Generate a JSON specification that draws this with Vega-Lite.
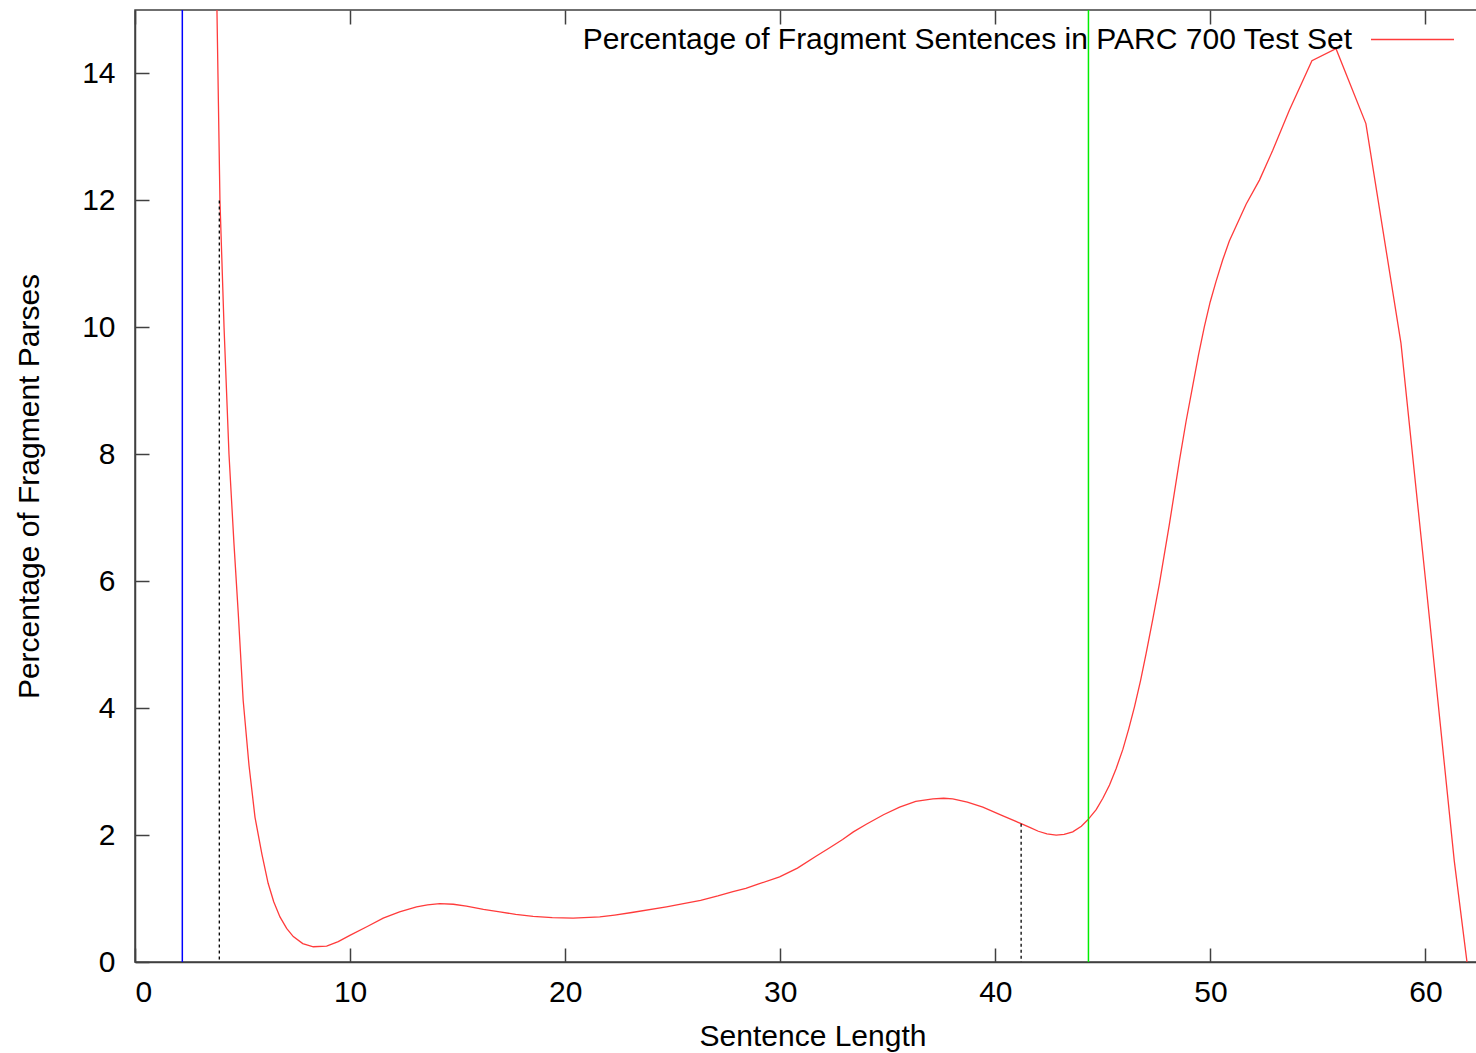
{
  "$schema": "https://vega.github.io/schema/vega-lite/v6.json",
  "width": 1355,
  "height": 952,
  "autosize": "none",
  "padding": {"left": 135, "top": 10, "right": 0, "bottom": 91},
  "background": "white",
  "config": {
    "font": "Liberation Sans",
    "view": {"stroke": "#404040", "strokeWidth": 1.5},
    "axis": {
      "labelFont": "Liberation Sans",
      "labelFontSize": 30,
      "labelColor": "black",
      "titleFont": "Liberation Sans",
      "titleFontSize": 30,
      "titleFontWeight": "normal",
      "titleColor": "black",
      "domainColor": "#404040",
      "domainWidth": 1.5,
      "tickColor": "#404040",
      "tickWidth": 1.5,
      "grid": false
    }
  },
  "datasets": {
    "curve": [
      {"len": 3.5, "pct": 18, "series": "Percentage of Fragment Sentences in PARC 700 Test Set"},
      {"len": 3.81, "pct": 15, "series": "Percentage of Fragment Sentences in PARC 700 Test Set"},
      {"len": 3.95, "pct": 12, "series": "Percentage of Fragment Sentences in PARC 700 Test Set"},
      {"len": 4.14, "pct": 10, "series": "Percentage of Fragment Sentences in PARC 700 Test Set"},
      {"len": 4.37, "pct": 8, "series": "Percentage of Fragment Sentences in PARC 700 Test Set"},
      {"len": 4.6, "pct": 6.6, "series": "Percentage of Fragment Sentences in PARC 700 Test Set"},
      {"len": 4.8, "pct": 5.5, "series": "Percentage of Fragment Sentences in PARC 700 Test Set"},
      {"len": 5.03, "pct": 4.12, "series": "Percentage of Fragment Sentences in PARC 700 Test Set"},
      {"len": 5.3, "pct": 3.1, "series": "Percentage of Fragment Sentences in PARC 700 Test Set"},
      {"len": 5.58, "pct": 2.28, "series": "Percentage of Fragment Sentences in PARC 700 Test Set"},
      {"len": 5.9, "pct": 1.7, "series": "Percentage of Fragment Sentences in PARC 700 Test Set"},
      {"len": 6.19, "pct": 1.24, "series": "Percentage of Fragment Sentences in PARC 700 Test Set"},
      {"len": 6.45, "pct": 0.95, "series": "Percentage of Fragment Sentences in PARC 700 Test Set"},
      {"len": 6.74, "pct": 0.71, "series": "Percentage of Fragment Sentences in PARC 700 Test Set"},
      {"len": 7.05, "pct": 0.53, "series": "Percentage of Fragment Sentences in PARC 700 Test Set"},
      {"len": 7.36, "pct": 0.4, "series": "Percentage of Fragment Sentences in PARC 700 Test Set"},
      {"len": 7.8, "pct": 0.29, "series": "Percentage of Fragment Sentences in PARC 700 Test Set"},
      {"len": 8.29, "pct": 0.24, "series": "Percentage of Fragment Sentences in PARC 700 Test Set"},
      {"len": 8.91, "pct": 0.25, "series": "Percentage of Fragment Sentences in PARC 700 Test Set"},
      {"len": 9.45, "pct": 0.32, "series": "Percentage of Fragment Sentences in PARC 700 Test Set"},
      {"len": 9.99, "pct": 0.42, "series": "Percentage of Fragment Sentences in PARC 700 Test Set"},
      {"len": 10.8, "pct": 0.56, "series": "Percentage of Fragment Sentences in PARC 700 Test Set"},
      {"len": 11.54, "pct": 0.69, "series": "Percentage of Fragment Sentences in PARC 700 Test Set"},
      {"len": 12.3, "pct": 0.79, "series": "Percentage of Fragment Sentences in PARC 700 Test Set"},
      {"len": 13.09, "pct": 0.87, "series": "Percentage of Fragment Sentences in PARC 700 Test Set"},
      {"len": 13.6, "pct": 0.9, "series": "Percentage of Fragment Sentences in PARC 700 Test Set"},
      {"len": 14.17, "pct": 0.92, "series": "Percentage of Fragment Sentences in PARC 700 Test Set"},
      {"len": 14.8, "pct": 0.91, "series": "Percentage of Fragment Sentences in PARC 700 Test Set"},
      {"len": 15.41, "pct": 0.88, "series": "Percentage of Fragment Sentences in PARC 700 Test Set"},
      {"len": 16.2, "pct": 0.83, "series": "Percentage of Fragment Sentences in PARC 700 Test Set"},
      {"len": 16.96, "pct": 0.79, "series": "Percentage of Fragment Sentences in PARC 700 Test Set"},
      {"len": 17.7, "pct": 0.75, "series": "Percentage of Fragment Sentences in PARC 700 Test Set"},
      {"len": 18.51, "pct": 0.72, "series": "Percentage of Fragment Sentences in PARC 700 Test Set"},
      {"len": 19.4, "pct": 0.7, "series": "Percentage of Fragment Sentences in PARC 700 Test Set"},
      {"len": 20.37, "pct": 0.69, "series": "Percentage of Fragment Sentences in PARC 700 Test Set"},
      {"len": 21.61, "pct": 0.71, "series": "Percentage of Fragment Sentences in PARC 700 Test Set"},
      {"len": 22.3, "pct": 0.74, "series": "Percentage of Fragment Sentences in PARC 700 Test Set"},
      {"len": 23.1, "pct": 0.78, "series": "Percentage of Fragment Sentences in PARC 700 Test Set"},
      {"len": 24.71, "pct": 0.87, "series": "Percentage of Fragment Sentences in PARC 700 Test Set"},
      {"len": 25.5, "pct": 0.92, "series": "Percentage of Fragment Sentences in PARC 700 Test Set"},
      {"len": 26.3, "pct": 0.97, "series": "Percentage of Fragment Sentences in PARC 700 Test Set"},
      {"len": 27.1, "pct": 1.04, "series": "Percentage of Fragment Sentences in PARC 700 Test Set"},
      {"len": 27.8, "pct": 1.11, "series": "Percentage of Fragment Sentences in PARC 700 Test Set"},
      {"len": 28.4, "pct": 1.16, "series": "Percentage of Fragment Sentences in PARC 700 Test Set"},
      {"len": 29.0, "pct": 1.23, "series": "Percentage of Fragment Sentences in PARC 700 Test Set"},
      {"len": 29.97, "pct": 1.34, "series": "Percentage of Fragment Sentences in PARC 700 Test Set"},
      {"len": 30.8, "pct": 1.48, "series": "Percentage of Fragment Sentences in PARC 700 Test Set"},
      {"len": 31.68, "pct": 1.67, "series": "Percentage of Fragment Sentences in PARC 700 Test Set"},
      {"len": 32.3, "pct": 1.8, "series": "Percentage of Fragment Sentences in PARC 700 Test Set"},
      {"len": 32.9, "pct": 1.93, "series": "Percentage of Fragment Sentences in PARC 700 Test Set"},
      {"len": 33.4, "pct": 2.05, "series": "Percentage of Fragment Sentences in PARC 700 Test Set"},
      {"len": 34.0, "pct": 2.17, "series": "Percentage of Fragment Sentences in PARC 700 Test Set"},
      {"len": 34.8, "pct": 2.32, "series": "Percentage of Fragment Sentences in PARC 700 Test Set"},
      {"len": 35.55, "pct": 2.44, "series": "Percentage of Fragment Sentences in PARC 700 Test Set"},
      {"len": 36.3, "pct": 2.53, "series": "Percentage of Fragment Sentences in PARC 700 Test Set"},
      {"len": 37.1, "pct": 2.57, "series": "Percentage of Fragment Sentences in PARC 700 Test Set"},
      {"len": 37.6, "pct": 2.58, "series": "Percentage of Fragment Sentences in PARC 700 Test Set"},
      {"len": 38.02, "pct": 2.57, "series": "Percentage of Fragment Sentences in PARC 700 Test Set"},
      {"len": 38.7, "pct": 2.52, "series": "Percentage of Fragment Sentences in PARC 700 Test Set"},
      {"len": 39.42, "pct": 2.44, "series": "Percentage of Fragment Sentences in PARC 700 Test Set"},
      {"len": 40.3, "pct": 2.31, "series": "Percentage of Fragment Sentences in PARC 700 Test Set"},
      {"len": 41.2, "pct": 2.18, "series": "Percentage of Fragment Sentences in PARC 700 Test Set"},
      {"len": 41.6, "pct": 2.12, "series": "Percentage of Fragment Sentences in PARC 700 Test Set"},
      {"len": 42.0, "pct": 2.06, "series": "Percentage of Fragment Sentences in PARC 700 Test Set"},
      {"len": 42.4, "pct": 2.02, "series": "Percentage of Fragment Sentences in PARC 700 Test Set"},
      {"len": 42.83, "pct": 2.0, "series": "Percentage of Fragment Sentences in PARC 700 Test Set"},
      {"len": 43.2, "pct": 2.01, "series": "Percentage of Fragment Sentences in PARC 700 Test Set"},
      {"len": 43.6, "pct": 2.05, "series": "Percentage of Fragment Sentences in PARC 700 Test Set"},
      {"len": 44.0, "pct": 2.14, "series": "Percentage of Fragment Sentences in PARC 700 Test Set"},
      {"len": 44.3, "pct": 2.24, "series": "Percentage of Fragment Sentences in PARC 700 Test Set"},
      {"len": 44.69, "pct": 2.4, "series": "Percentage of Fragment Sentences in PARC 700 Test Set"},
      {"len": 45.0, "pct": 2.58, "series": "Percentage of Fragment Sentences in PARC 700 Test Set"},
      {"len": 45.31, "pct": 2.79, "series": "Percentage of Fragment Sentences in PARC 700 Test Set"},
      {"len": 45.62, "pct": 3.05, "series": "Percentage of Fragment Sentences in PARC 700 Test Set"},
      {"len": 45.93, "pct": 3.35, "series": "Percentage of Fragment Sentences in PARC 700 Test Set"},
      {"len": 46.2, "pct": 3.67, "series": "Percentage of Fragment Sentences in PARC 700 Test Set"},
      {"len": 46.47, "pct": 4.02, "series": "Percentage of Fragment Sentences in PARC 700 Test Set"},
      {"len": 46.75, "pct": 4.43, "series": "Percentage of Fragment Sentences in PARC 700 Test Set"},
      {"len": 47.01, "pct": 4.86, "series": "Percentage of Fragment Sentences in PARC 700 Test Set"},
      {"len": 47.32, "pct": 5.4, "series": "Percentage of Fragment Sentences in PARC 700 Test Set"},
      {"len": 47.63, "pct": 5.96, "series": "Percentage of Fragment Sentences in PARC 700 Test Set"},
      {"len": 48.09, "pct": 6.89, "series": "Percentage of Fragment Sentences in PARC 700 Test Set"},
      {"len": 48.56, "pct": 7.9, "series": "Percentage of Fragment Sentences in PARC 700 Test Set"},
      {"len": 48.87, "pct": 8.52, "series": "Percentage of Fragment Sentences in PARC 700 Test Set"},
      {"len": 49.18, "pct": 9.08, "series": "Percentage of Fragment Sentences in PARC 700 Test Set"},
      {"len": 49.45, "pct": 9.57, "series": "Percentage of Fragment Sentences in PARC 700 Test Set"},
      {"len": 49.72, "pct": 10.01, "series": "Percentage of Fragment Sentences in PARC 700 Test Set"},
      {"len": 49.99, "pct": 10.4, "series": "Percentage of Fragment Sentences in PARC 700 Test Set"},
      {"len": 50.26, "pct": 10.72, "series": "Percentage of Fragment Sentences in PARC 700 Test Set"},
      {"len": 50.57, "pct": 11.06, "series": "Percentage of Fragment Sentences in PARC 700 Test Set"},
      {"len": 50.88, "pct": 11.36, "series": "Percentage of Fragment Sentences in PARC 700 Test Set"},
      {"len": 51.66, "pct": 11.94, "series": "Percentage of Fragment Sentences in PARC 700 Test Set"},
      {"len": 52.28, "pct": 12.32, "series": "Percentage of Fragment Sentences in PARC 700 Test Set"},
      {"len": 52.9, "pct": 12.79, "series": "Percentage of Fragment Sentences in PARC 700 Test Set"},
      {"len": 53.67, "pct": 13.42, "series": "Percentage of Fragment Sentences in PARC 700 Test Set"},
      {"len": 54.72, "pct": 14.2, "series": "Percentage of Fragment Sentences in PARC 700 Test Set"},
      {"len": 55.84, "pct": 14.39, "series": "Percentage of Fragment Sentences in PARC 700 Test Set"},
      {"len": 57.23, "pct": 13.21, "series": "Percentage of Fragment Sentences in PARC 700 Test Set"},
      {"len": 58.86, "pct": 9.75, "series": "Percentage of Fragment Sentences in PARC 700 Test Set"},
      {"len": 60.02, "pct": 5.96, "series": "Percentage of Fragment Sentences in PARC 700 Test Set"},
      {"len": 61.34, "pct": 1.59, "series": "Percentage of Fragment Sentences in PARC 700 Test Set"},
      {"len": 61.93, "pct": 0, "series": "Percentage of Fragment Sentences in PARC 700 Test Set"}
    ],
    "markers": [
      {"len": 3.92, "pct": 12.0},
      {"len": 41.2, "pct": 2.18}
    ]
  },
  "resolve": {"axis": {"x": "independent", "y": "independent"}},
  "layer": [
    {
      "data": {"name": "curve"},
      "mark": {"type": "line", "interpolate": "linear", "clip": true, "strokeWidth": 1.3},
      "encoding": {
        "x": {
          "field": "len", "type": "quantitative",
          "scale": {"domain": [0, 63], "nice": false, "zero": false},
          "axis": {"orient": "bottom", "title": "Sentence Length", "values": [0, 10, 20, 30, 40, 50, 60], "tickSize": -14, "labelPadding": 29, "titlePadding": 14, "domain": true}
        },
        "y": {
          "field": "pct", "type": "quantitative",
          "scale": {"domain": [0, 15], "nice": false, "zero": false},
          "axis": {"orient": "left", "title": "Percentage of Fragment Parses", "values": [0, 2, 4, 6, 8, 10, 12, 14], "tickSize": -14, "labelPadding": 34, "titlePadding": 37}
        },
        "color": {
          "field": "series", "type": "nominal",
          "scale": {"range": ["#ff3b3b"]},
          "legend": {
            "title": null,
            "orient": "none",
            "legendX": 1235,
            "legendY": -13,
            "padding": 0,
            "symbolType": "stroke",
            "symbolSize": 6889,
            "symbolStrokeWidth": 1.3,
            "labelFont": "Liberation Sans",
            "labelFontSize": 30,
            "labelColor": "black",
            "labelAlign": "right",
            "labelOffset": -103,
            "labelLimit": 1000
          }
        }
      }
    },
    {
      "data": {"values": [{"len": 2.2}]},
      "mark": {"type": "rule", "color": "#0000ff", "strokeWidth": 1.5},
      "encoding": {
        "x": {"field": "len", "type": "quantitative", "axis": null}
      }
    },
    {
      "data": {"values": [{"len": 44.33}]},
      "mark": {"type": "rule", "color": "#00ee00", "strokeWidth": 1.5},
      "encoding": {
        "x": {"field": "len", "type": "quantitative", "axis": null}
      }
    },
    {
      "data": {"name": "markers"},
      "mark": {"type": "rule", "color": "black", "strokeWidth": 1.3, "strokeDash": [3, 3]},
      "encoding": {
        "x": {"field": "len", "type": "quantitative", "axis": {"orient": "top", "title": null, "labels": false, "domain": false, "values": [0, 10, 20, 30, 40, 50, 60], "tickSize": -14}},
        "y": {"field": "pct", "type": "quantitative", "axis": {"orient": "right", "title": null, "labels": false, "domain": false, "values": [0, 2, 4, 6, 8, 10, 12, 14], "tickSize": -14}},
        "y2": {"datum": 0}
      }
    }
  ]
}
